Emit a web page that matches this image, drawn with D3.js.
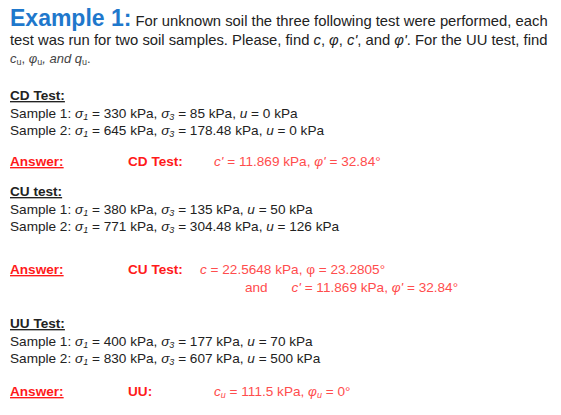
<!DOCTYPE html>
<html><head><meta charset="utf-8">
<script src="https://cdn.jsdelivr.net/npm/d3@7"></script>
<style>body{margin:0;background:#fff}</style>
</head><body>
<div id="chart"></div>
<script>
const tests = ["CD Test:", "CU test:", "UU Test:"];
const sigma1 = [[330, 645], [380, 771], [400, 830]];
const sigma3 = [[85, 178.48], [135, 304.48], [177, 607]];
const pore = [[0, 0], [50, 126], [70, 500]];
const answerLabels = ["CD Test:", "CU Test:", "UU:"];

const width = 561, height = 415;
const svg = d3.select("#chart").append("svg")
    .attr("width", width).attr("height", height)
    .style("font-family", "'Liberation Sans', Arial, sans-serif");

const y = d3.scaleLinear().domain([0, 1]).range([0, 18]); // line spacing

// text line from segments: [text, opts]
function line(x, yy, segs, base) {
    const t = svg.append("text").attr("x", x).attr("y", yy)
        .attr("font-size", base.size || 13.6).attr("fill", base.fill || "#222");
    segs.forEach(s => {
        const [txt, o = {}] = typeof s === "string" ? [s] : s;
        const ts = t.append("tspan").text(txt);
        if (o.i) ts.attr("font-style", "italic");
        if (o.b) ts.attr("font-weight", "bold");
        if (o.u) ts.attr("text-decoration", "underline");
        if (o.fill) ts.attr("fill", o.fill);
        if (o.size) ts.attr("font-size", o.size);
        if (o.sub) ts.attr("baseline-shift", "-25%").attr("font-size", 9);
        if (o.dx) ts.attr("dx", o.dx);
    });
    return t;
}

// header
line(10, 26, [["Example 1:", {b: true, fill: "#1f78cc", size: 23}],
    " For unknown soil the three following test were performed, each"], {size: 14.8});
line(10, 45, ["test was run for two soil samples. Please, find ", ["c", {i: 1}], ", ",
    ["φ", {i: 1}], ", ", ["c'", {i: 1}], ", and ", ["φ'", {i: 1}], ". For the UU test, find"], {size: 14.8});
line(10, 63, [["c", {i: 1}], ["u", {sub: 1}], ", ", ["φ", {i: 1}], ["u", {sub: 1}],
    [", and q", {i: 1}], ["u", {sub: 1}], "."], {size: 13, fill: "#444"});

const tops = [100, 196, 328];
tops.forEach((top, k) => {
    line(10, top, [[tests[k], {b: 1, u: 1}]], {});
    [0, 1].forEach(s => {
        line(10, top + y(1) + y(s) - (s ? 1 : 0), [`Sample ${s + 1}: `, ["σ", {i: 1}], ["1", {sub: 1, i: 1}],
            ` = ${sigma1[k][s]} kPa, `, ["σ", {i: 1}], ["3", {sub: 1, i: 1}],
            ` = ${sigma3[k][s]} kPa, `, ["u", {i: 1}], ` = ${pore[k][s]} kPa`], {});
    });
});

const ansY = [166, 274, 396];
const red = "#ff1a1a", light = "#ff4d4d";
const answers = [
    [["c'", {i: 1}], " = 11.869 kPa, ", ["φ'", {i: 1}], " = 32.84°"],
    [["c", {i: 1}], " = 22.5648 kPa, φ = 23.2805°"],
    [["c", {i: 1}], ["u", {sub: 1, i: 1}], " = 111.5 kPa, ", ["φ", {i: 1}], ["u", {sub: 1, i: 1}], " = 0°"]
];
ansY.forEach((yy, k) => {
    line(10, yy, [["Answer:", {b: 1, u: 1}]], {fill: red});
    line(128, yy, [[answerLabels[k], {b: 1}]], {fill: red});
    line(k === 1 ? 200 : 214, yy, answers[k], {fill: light});
});
line(245, 292, ["and ", ["c'", {i: 1, dx: 20}], " = 11.869 kPa, ", ["φ'", {i: 1}], " = 32.84°"], {fill: light});
</script>
</body></html>
